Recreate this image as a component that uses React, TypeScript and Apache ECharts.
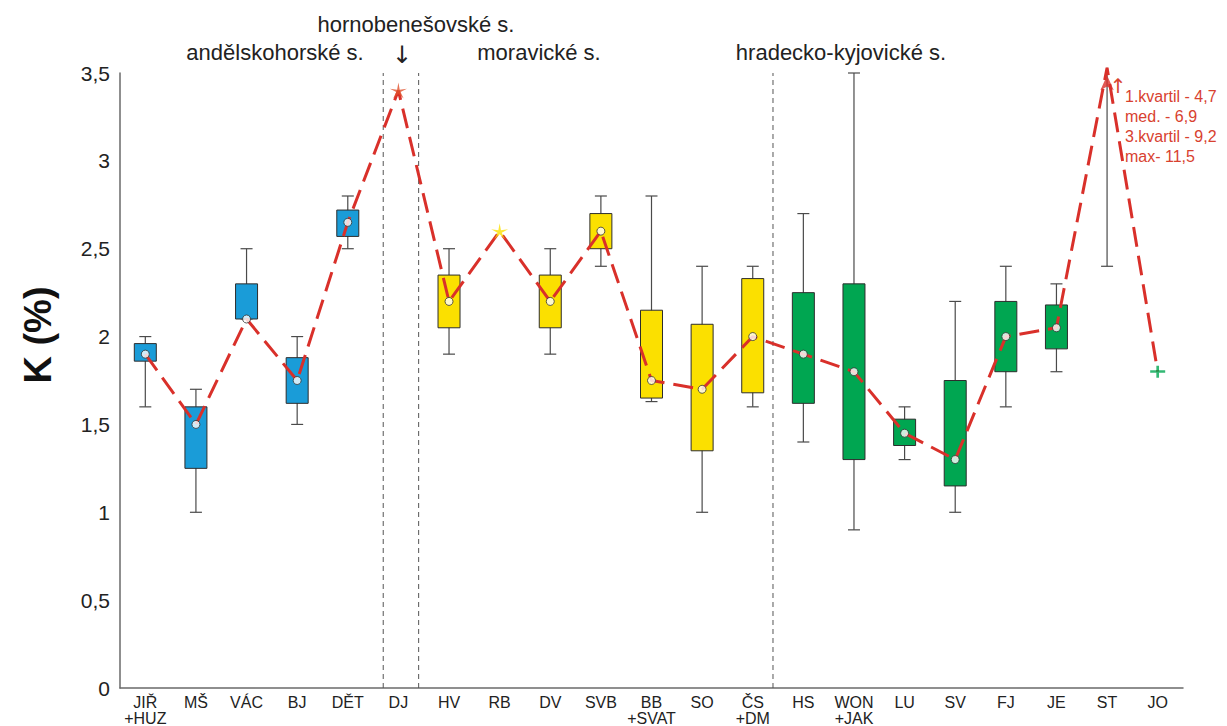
import React, { useEffect, useRef } from 'react';
import * as echarts from 'echarts';

// ---------- data ----------
const categories = [
  'JIŘ\n+HUZ', 'MŠ', 'VÁC', 'BJ', 'DĚT', 'DJ', 'HV', 'RB', 'DV', 'SVB',
  'BB\n+SVAT', 'SO', 'ČS\n+DM', 'HS', 'WON\n+JAK', 'LU', 'SV', 'FJ', 'JE', 'ST', 'JO',
];
// group of each category: A = andělskohorské, B = hornobenešovské, M = moravické, H = hradecko-kyjovické
const groups = ['A', 'A', 'A', 'A', 'A', 'B', 'M', 'M', 'M', 'M', 'M', 'M', 'M', 'H', 'H', 'H', 'H', 'H', 'H', 'H', 'H'];

const boxMin = [1.6, 1.0, 2.1, 1.5, 2.5, null, 1.9, null, 1.9, 2.4, 1.63, 1.0, 1.6, 1.4, 0.9, 1.3, 1.0, 1.6, 1.8, 2.4, null];
const boxQ1 = [1.86, 1.25, 2.1, 1.62, 2.57, null, 2.05, null, 2.05, 2.5, 1.65, 1.35, 1.68, 1.62, 1.3, 1.38, 1.15, 1.8, 1.93, 4.7, null];
const medians = [1.9, 1.5, 2.1, 1.75, 2.65, 3.4, 2.2, 2.6, 2.2, 2.6, 1.75, 1.7, 2.0, 1.9, 1.8, 1.45, 1.3, 2.0, 2.05, 6.9, 1.8];
const boxQ3 = [1.96, 1.6, 2.3, 1.88, 2.72, null, 2.35, null, 2.35, 2.7, 2.15, 2.07, 2.33, 2.25, 2.3, 1.53, 1.75, 2.2, 2.18, 9.2, null];
const boxMax = [2.0, 1.7, 2.5, 2.0, 2.8, null, 2.5, null, 2.5, 2.8, 2.8, 2.4, 2.4, 2.7, 3.5, 1.6, 2.2, 2.4, 2.3, 11.5, null];

// single-value samples drawn as markers
const singleShape = [null, null, null, null, null, 'star', null, 'star', null, null, null, null, null, null, null, null, null, null, null, null, 'plus'];

const groupTitles = ['andělskohorské s.', 'hornobenešovské s.', 'moravické s.', 'hradecko-kyjovické s.'];
const stNote = ['1.kvartil - 4,7', 'med. - 6,9', '3.kvartil - 9,2', 'max- 11,5'];
const separators = [4.7, 5.4, 12.4];

const Y_MIN = 0;
const Y_MAX = 3.5;
const Y_STEP = 0.5;
const OFF_SCALE = 3.53; // where off-scale values are drawn (arrow)

// ---------- styles ----------
const FONT = '"Liberation Sans", Arial, sans-serif';
const groupColor: Record<string, string> = { A: '#1a9cd8', B: '#e0502a', M: '#fbe000', H: '#00a651' };
const RED = '#d9302a';
const NOTE_RED = '#d8412f';
const STAR_PATH =
  'path://M10 0 L11.469 7.977 L19.511 6.91 L12.378 10.773 L15.878 18.09 L10 12.5 L4.122 18.09 L7.622 10.773 L0.489 6.91 L8.531 7.977 Z';
const PLUS_PATH = 'path://M0,4.5 H14 V7 H0 Z M5.75,0 H8.25 V12 H5.75 Z';

export default function App() {
  const ref = useRef<HTMLDivElement>(null);

  useEffect(() => {
    if (!ref.current) return;
    const chart = echarts.init(ref.current, undefined, { renderer: 'svg' });

    const boxData = categories
      .map((_, i) => (boxQ1[i] == null ? null : [i, boxMin[i], boxQ1[i], boxQ3[i], boxMax[i]]))
      .filter((d) => d !== null);

    const lineData = medians.map((v) => (v > Y_MAX ? OFF_SCALE : v));
    const arrowData = medians.map((v, i) => (v > Y_MAX ? [i, OFF_SCALE] : null)).filter((d) => d !== null);

    const medianDots = medians
      .map((v, i) => (boxQ1[i] != null && v <= Y_MAX ? [i, v] : null))
      .filter((d) => d !== null);

    const singles = medians
      .map((v, i) =>
        singleShape[i]
          ? {
              value: [i, v],
              symbol: singleShape[i] === 'star' ? STAR_PATH : PLUS_PATH,
              symbolSize: singleShape[i] === 'star' ? [17, 16] : [15, 12],
              itemStyle: { color: groupColor[groups[i]] },
            }
          : null
      )
      .filter((d) => d !== null);

    const sepData = separators.map((x) => [x]);

    const whisker = { stroke: '#4a4a4a', lineWidth: 1.2 };

    const option: any = {
      animation: false,
      backgroundColor: '#ffffff',
      grid: { left: 120, right: 44, top: 73, bottom: 37, containLabel: false },
      xAxis: [
        {
          type: 'category',
          data: categories,
          boundaryGap: true,
          axisLine: { show: true, onZero: false, lineStyle: { color: '#6a6a6a', width: 1.5 } },
          axisTick: { show: false },
          splitLine: { show: false },
          axisLabel: {
            interval: 0,
            color: '#222',
            fontFamily: FONT,
            fontSize: 16,
            lineHeight: 16,
            margin: 6,
          },
        },
        {
          type: 'value',
          show: false,
          min: -0.5,
          max: categories.length - 0.5,
        },
      ],
      yAxis: {
        type: 'value',
        min: Y_MIN,
        max: Y_MAX,
        interval: Y_STEP,
        axisLine: { show: true, onZero: false, lineStyle: { color: '#6a6a6a', width: 1.5 } },
        axisTick: { show: false },
        splitLine: { show: false },
        axisLabel: {
          color: '#222',
          fontFamily: FONT,
          fontSize: 21,
          margin: 10,
          formatter: (v: number) => String(v).replace('.', ','),
        },
      },
      series: [
        {
          type: 'custom',
          xAxisIndex: 1,
          z: 1,
          silent: true,
          data: sepData,
          renderItem: (params: any, api: any) => {
            const x = api.value(0);
            const p0 = api.coord([x, Y_MIN]);
            const p1 = api.coord([x, Y_MAX]);
            return {
              type: 'line',
              shape: { x1: p0[0], y1: p0[1], x2: p1[0], y2: p1[1] },
              style: { stroke: '#555', lineWidth: 1, lineDash: [5, 4] },
            };
          },
        },
        {
          type: 'custom',
          z: 2,
          silent: true,
          data: boxData,
          encode: { x: 0, y: [1, 2, 3, 4] },
          renderItem: (params: any, api: any) => {
            const i = api.value(0);
            const lo = api.value(1);
            const q1 = api.value(2);
            const q3 = api.value(3);
            const hi = api.value(4);
            const hiOff = hi > Y_MAX;
            const pLo = api.coord([i, lo]);
            const pHi = api.coord([i, hiOff ? OFF_SCALE : hi]);
            const halfBox = 11;
            const halfCap = 6;
            const children: any[] = [
              { type: 'line', shape: { x1: pLo[0], y1: pLo[1], x2: pHi[0], y2: pHi[1] }, style: whisker },
              { type: 'line', shape: { x1: pLo[0] - halfCap, y1: pLo[1], x2: pLo[0] + halfCap, y2: pLo[1] }, style: whisker },
            ];
            if (!hiOff) {
              children.push({
                type: 'line',
                shape: { x1: pHi[0] - halfCap, y1: pHi[1], x2: pHi[0] + halfCap, y2: pHi[1] },
                style: whisker,
              });
            }
            if (q1 <= Y_MAX) {
              const pQ1 = api.coord([i, q1]);
              const pQ3 = api.coord([i, Math.min(q3, Y_MAX)]);
              children.push({
                type: 'rect',
                shape: { x: pQ1[0] - halfBox, y: pQ3[1], width: halfBox * 2, height: pQ1[1] - pQ3[1] },
                style: { fill: groupColor[groups[i]], stroke: '#2d2d2d', lineWidth: 1 },
              });
            }
            return { type: 'group', children };
          },
        },
        {
          type: 'line',
          z: 3,
          silent: true,
          clip: false,
          data: lineData,
          symbol: 'none',
          lineStyle: { color: RED, width: 3, type: [20, 9] },
        },
        {
          type: 'scatter',
          z: 4,
          silent: true,
          clip: false,
          data: arrowData,
          symbol: 'arrow',
          symbolSize: [10, 15],
          symbolOffset: [0, '50%'],
          itemStyle: { color: RED },
        },
        {
          type: 'scatter',
          z: 5,
          silent: true,
          data: medianDots,
          symbol: 'circle',
          symbolSize: 8,
          itemStyle: { color: '#ffffff', borderColor: '#333', borderWidth: 1 },
        },
        {
          type: 'scatter',
          z: 5,
          silent: true,
          clip: false,
          data: singles,
        },
      ],
      graphic: [
        {
          type: 'text',
          x: 38,
          y: 335,
          rotation: Math.PI / 2,
          style: {
            text: 'K (%)',
            fontSize: 38,
            fontWeight: 'bold',
            fontFamily: FONT,
            fill: '#111',
            align: 'center',
            verticalAlign: 'middle',
          },
        },
        {
          type: 'text',
          x: 275,
          y: 52,
          style: { text: groupTitles[0], fontSize: 22, fontFamily: FONT, fill: '#222', align: 'center', verticalAlign: 'middle' },
        },
        {
          type: 'text',
          x: 416,
          y: 24,
          style: { text: groupTitles[1], fontSize: 22, fontFamily: FONT, fill: '#222', align: 'center', verticalAlign: 'middle' },
        },
        {
          type: 'text',
          x: 402,
          y: 55,
          style: { text: '↓', fontSize: 24, fontFamily: '"DejaVu Sans", sans-serif', fill: '#222', align: 'center', verticalAlign: 'middle' },
        },
        {
          type: 'text',
          x: 539,
          y: 52,
          style: { text: groupTitles[2], fontSize: 22, fontFamily: FONT, fill: '#222', align: 'center', verticalAlign: 'middle' },
        },
        {
          type: 'text',
          x: 841,
          y: 52,
          style: { text: groupTitles[3], fontSize: 22, fontFamily: FONT, fill: '#222', align: 'center', verticalAlign: 'middle' },
        },
        {
          type: 'text',
          x: 1118,
          y: 86,
          style: { text: '↑', fontSize: 20, fontFamily: '"DejaVu Sans", sans-serif', fill: NOTE_RED, align: 'center', verticalAlign: 'middle' },
        },
        ...stNote.map((t, k) => ({
          type: 'text',
          x: 1125,
          y: 96 + k * 20,
          style: { text: t, fontSize: 16, fontFamily: FONT, fill: NOTE_RED, align: 'left', verticalAlign: 'middle' },
        })),
      ],
    };

    chart.setOption(option);
    return () => chart.dispose();
  }, []);

  return <div ref={ref} style={{ position: 'fixed', left: 0, top: 0, width: 1227, height: 726, background: '#fff' }} />;
}
